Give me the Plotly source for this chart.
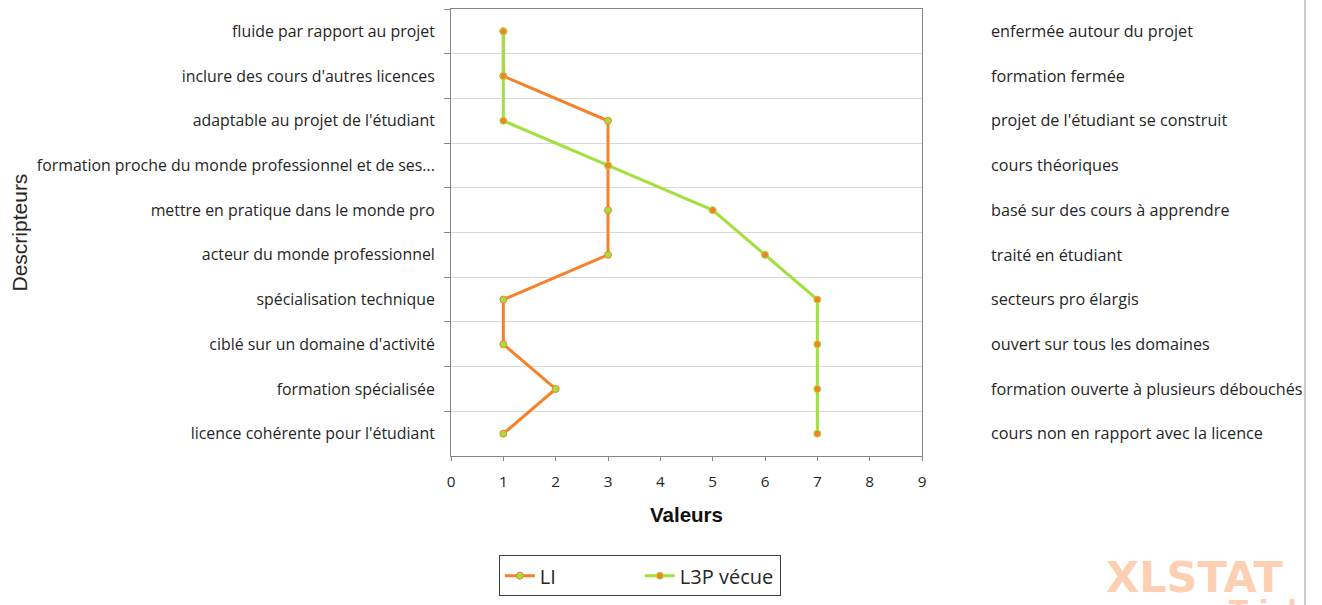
import plotly.graph_objects as go

left_labels = [
    "fluide par rapport au projet",
    "inclure des cours d'autres licences",
    "adaptable au projet de l'étudiant",
    "formation proche du monde professionnel et de ses...",
    "mettre en pratique dans le monde pro",
    "acteur du monde professionnel",
    "spécialisation technique",
    "ciblé sur un domaine d'activité",
    "formation spécialisée",
    "licence cohérente pour l'étudiant",
]
right_labels = [
    "enfermée autour du projet",
    "formation fermée",
    "projet de l'étudiant se construit",
    "cours théoriques",
    "basé sur des cours à apprendre",
    "traité en étudiant",
    "secteurs pro élargis",
    "ouvert sur tous les domaines",
    "formation ouverte à plusieurs débouchés",
    "cours non en rapport avec la licence",
]
li_values = [1, 1, 3, 3, 3, 3, 1, 1, 2, 1]
l3p_values = [1, 1, 1, 3, 5, 6, 7, 7, 7, 7]
x_ticks = [0, 1, 2, 3, 4, 5, 6, 7, 8, 9]

ORANGE = "#F7812A"
GREEN = "#A2E03E"
FONT = "Open Sans"
LBL = 16.2

fig = go.Figure()
fig.add_trace(go.Scatter(
    x=li_values, y=left_labels, name="LI", mode="lines+markers",
    line=dict(color=ORANGE, width=3),
    marker=dict(color=GREEN, size=7, line=dict(color=ORANGE, width=1)),
))
fig.add_trace(go.Scatter(
    x=l3p_values, y=left_labels, name="L3P vécue", mode="lines+markers",
    line=dict(color=GREEN, width=3),
    marker=dict(color=ORANGE, size=7, line=dict(color=GREEN, width=1)),
))
fig.add_trace(go.Scatter(
    x=li_values, y=right_labels, yaxis="y2", mode="markers",
    marker=dict(opacity=0), showlegend=False, hoverinfo="skip",
))

fig.update_layout(
    width=1322, height=605,
    margin=dict(l=451, r=400, t=9, b=147),
    paper_bgcolor="white", plot_bgcolor="white",
    font=dict(family=FONT, size=LBL, color="#262626"),
    xaxis=dict(
        range=[0, 9], tickvals=x_ticks, ticks="outside", ticklen=4,
        tickcolor="#868686", showline=True, linecolor="#868686", linewidth=1,
        mirror=True, showgrid=False, zeroline=False, ticklabelstandoff=8,
        tickfont=dict(family=FONT, size=15.3, color="#262626"),
        title=dict(text="<b>Valeurs</b>", font=dict(family="Liberation Sans", size=20.5, color="#111"), standoff=17),
    ),
    yaxis=dict(
        type="category", categoryorder="array", categoryarray=left_labels,
        range=[9.5, -0.5], tickson="boundaries", ticks="outside", ticklen=6,
        tickcolor="#868686", showline=True, linecolor="#868686", linewidth=1,
        mirror=True, showgrid=True, gridcolor="#d9d9d9", gridwidth=1,
        ticklabelstandoff=12,
        tickfont=dict(family=FONT, size=15.9, color="#262626"),
    ),
    yaxis2=dict(
        type="category", categoryorder="array", categoryarray=right_labels,
        range=[9.5, -0.5], overlaying="y", side="right", showgrid=False,
        showline=False, ticks="", ticklabelstandoff=68,
        tickfont=dict(family=FONT, size=LBL, color="#262626"),
    ),
    legend=dict(
        orientation="h", x=0.401, xanchor="center", y=-0.222, yanchor="top",
        bordercolor="#404040", borderwidth=1,
        font=dict(family=FONT, size=20, color="#262626"),
        entrywidth=95,
    ),
    showlegend=True,
)

fig.add_annotation(
    text="Descripteurs", textangle=-90, xref="paper", yref="paper",
    x=(19 - 451) / 471, xanchor="center", y=0.5, showarrow=False,
    font=dict(family="Liberation Sans", size=21, color="#262626"),
)
fig.add_shape(
    type="line", xref="paper", yref="paper",
    x0=(1305 - 451) / 471, x1=(1305 - 451) / 471, y0=-1, y1=1.1,
    line=dict(color="#9a9a9a", width=1),
)
fig.add_annotation(
    text="<b>XLSTAT</b>", xref="paper", yref="paper",
    x=(1194 - 451) / 471, xanchor="center", y=(458 - 580) / 449, yanchor="middle",
    showarrow=False,
    font=dict(family="DejaVu Sans", size=43, color="#FDD0B4"),
)
fig.add_annotation(
    text="<b>Trial</b>", xref="paper", yref="paper",
    x=(1263 - 451) / 471, xanchor="center", y=(458 - 614) / 449, yanchor="middle",
    showarrow=False,
    font=dict(family="DejaVu Sans", size=28, color="#FDD0B4"),
)

fig.write_html("out.html", config={"displayModeBar": False},
               post_script="document.body.style.margin='0';")
